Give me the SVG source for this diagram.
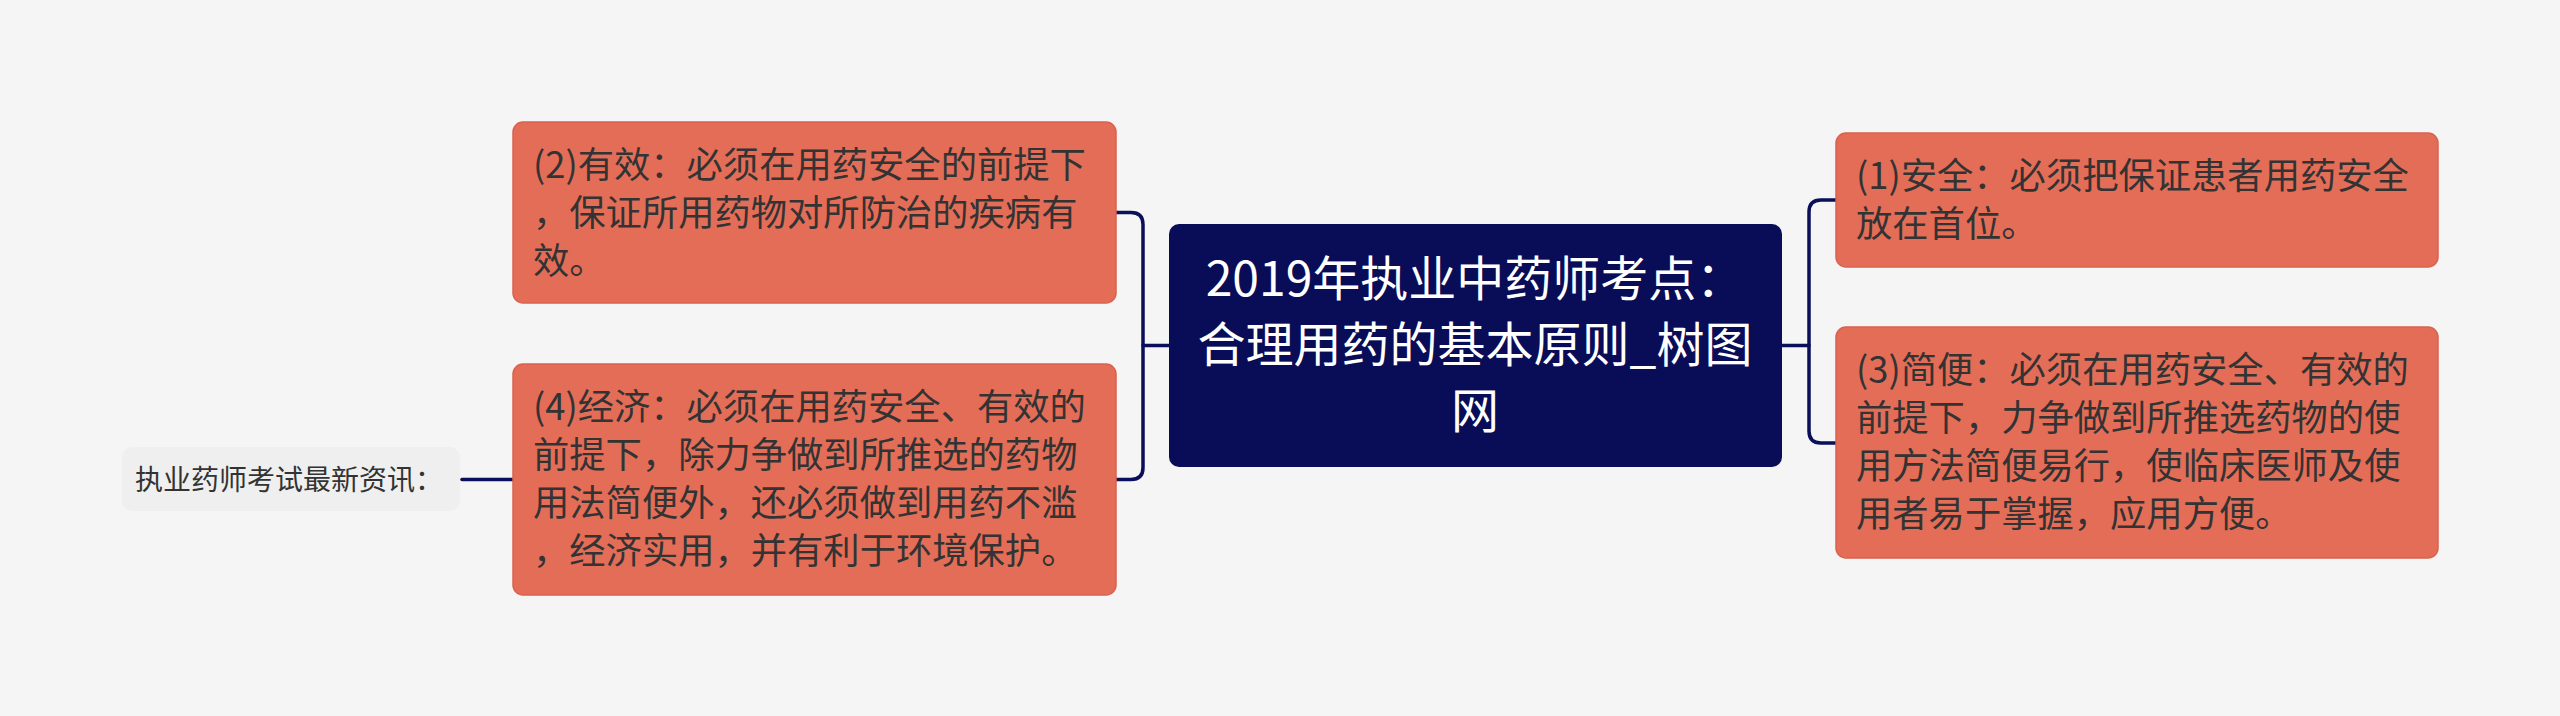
<svg xmlns="http://www.w3.org/2000/svg" width="2560" height="716" viewBox="0 0 2560 716">
<style>
.bg{fill:#F5F5F5}
.topic{fill:#E46D58;stroke:#D9614D;stroke-width:1.5}
.t{font-family:"Noto Sans CJK SC","Noto Sans",sans-serif;font-size:36.3px;fill:#333333}
.c{font-family:"Noto Sans CJK SC","Noto Sans",sans-serif;font-size:48px;fill:#FFFFFF;text-anchor:middle}
.s{font-family:"Noto Sans CJK SC","Noto Sans",sans-serif;font-size:28px;fill:#333333}
.ln{fill:none;stroke:#0B0F5A;stroke-width:3.5;stroke-linecap:round}
</style>
<rect class="bg" x="0" y="0" width="2560" height="716"/>
<g id="connectors">
<path class="ln" d="M1116,212.5 H1131 Q1143,212.5 1143,224.5 V467.5 Q1143,479.5 1131,479.5 H1116"/>
<path class="ln" d="M1143,345.5 H1169"/>
<path class="ln" d="M1836,200 H1821 Q1809,200 1809,212 V431 Q1809,443 1821,443 H1836"/>
<path class="ln" d="M1781,345.5 H1809"/>
<path class="ln" d="M462,479.5 H513"/>
</g>
<g id="center">
<rect x="1169" y="224" width="613" height="243" rx="10" fill="#090D57"/>
<text class="c" x="1475" y="296">2019年执业中药师考点：</text>
<text class="c" x="1475" y="362">合理用药的基本原则_树图</text>
<text class="c" x="1475" y="428">网</text>
</g>
<g id="node2">
<rect class="topic" x="513" y="122" width="603" height="181" rx="10"/>
<text class="t" x="533" y="178">(2)有效：必须在用药安全的前提下</text>
<text class="t" x="533" y="226">，保证所用药物对所防治的疾病有</text>
<text class="t" x="533" y="274">效。</text>
</g>
<g id="node4">
<rect class="topic" x="513" y="364" width="603" height="231" rx="10"/>
<text class="t" x="533" y="420">(4)经济：必须在用药安全、有效的</text>
<text class="t" x="533" y="468">前提下，除力争做到所推选的药物</text>
<text class="t" x="533" y="516">用法简便外，还必须做到用药不滥</text>
<text class="t" x="533" y="564">，经济实用，并有利于环境保护。</text>
</g>
<g id="node-news">
<rect x="122" y="447" width="338" height="64" rx="10" fill="#EFEFEF"/>
<text class="s" x="135" y="490">执业药师考试最新资讯：</text>
</g>
<g id="node1">
<rect class="topic" x="1836" y="133" width="602" height="134" rx="10"/>
<text class="t" x="1856" y="189">(1)安全：必须把保证患者用药安全</text>
<text class="t" x="1856" y="237">放在首位。</text>
</g>
<g id="node3">
<rect class="topic" x="1836" y="327" width="602" height="231" rx="10"/>
<text class="t" x="1856" y="383">(3)简便：必须在用药安全、有效的</text>
<text class="t" x="1856" y="431">前提下，力争做到所推选药物的使</text>
<text class="t" x="1856" y="479">用方法简便易行，使临床医师及使</text>
<text class="t" x="1856" y="527">用者易于掌握，应用方便。</text>
</g>
</svg>
